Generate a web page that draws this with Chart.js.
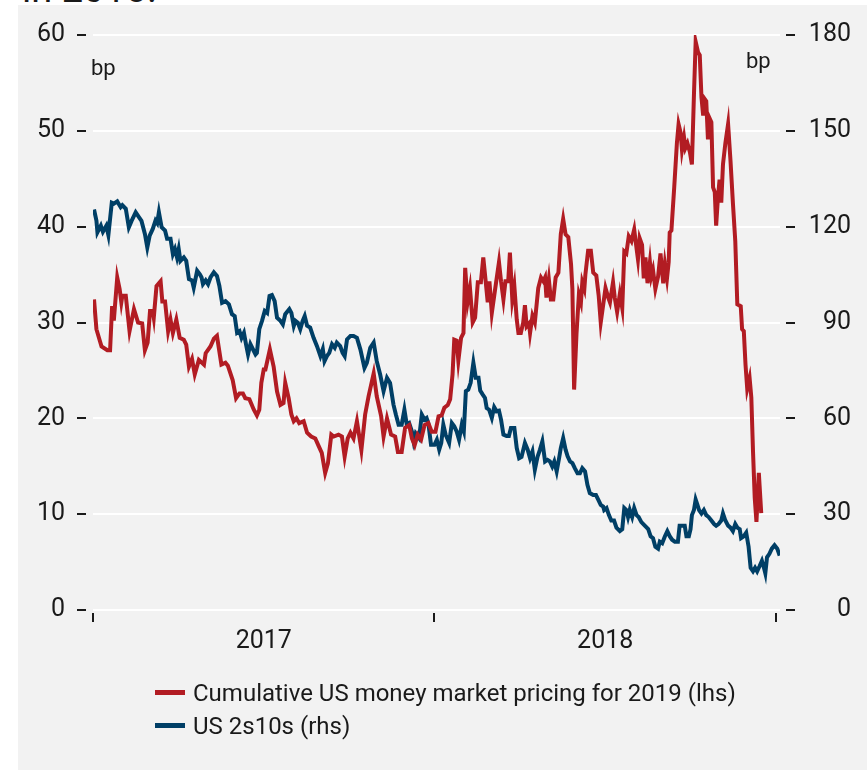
<!DOCTYPE html>
<html>
<head>
<meta charset="utf-8">
<script src="https://cdn.jsdelivr.net/npm/chart.js@4.4.1/dist/chart.umd.min.js"></script>
<style>
html,body{margin:0;padding:0;background:#fff;width:867px;height:770px;overflow:hidden;font-family:Roboto,sans-serif;color:#1a1a1a}
#head{position:absolute;left:22px;top:-30px;font-size:38px;line-height:38px;white-space:nowrap}
#panel{position:absolute;left:18px;top:5px;width:849px;height:765px;background:#f2f2f2}
#wrap{position:absolute;left:0;top:0;width:867px;height:770px}
#legend{position:absolute;left:155px;top:676px;font-size:24px}
.item{display:flex;align-items:center;height:33px}
.sw{width:30px;height:5px;margin-right:8px}
</style>
</head>
<body>
<div id="head">in 2018.</div>
<div id="panel"></div>
<div id="wrap"><canvas id="c" width="867" height="770"></canvas></div>
<div id="legend"></div>
<script>
// time axis in decimal years
const YEAR_MARKS = [2017, 2018, 2019];
const YEAR_LABELS = ['2017', '2018'];
const LHS_TICKS = [0, 10, 20, 30, 40, 50, 60];
const RHS_TICKS = [0, 30, 60, 90, 120, 150, 180];

// cumulative money market pricing for 2019, bp (lhs)
const mmT = [2017.003,2017.010,2017.025,2017.042,2017.050,2017.056,2017.061,2017.071,2017.078,2017.083,2017.086,2017.096,2017.107,2017.120,2017.132,2017.144,2017.152,2017.160,2017.167,2017.175,2017.178,2017.186,2017.198,2017.203,2017.211,2017.220,2017.227,2017.234,2017.244,2017.254,2017.266,2017.273,2017.281,2017.290,2017.298,2017.310,2017.325,2017.330,2017.344,2017.354,2017.363,2017.376,2017.388,2017.395,2017.409,2017.419,2017.429,2017.439,2017.446,2017.458,2017.471,2017.480,2017.487,2017.493,2017.500,2017.505,2017.518,2017.529,2017.539,2017.549,2017.558,2017.563,2017.573,2017.581,2017.588,2017.596,2017.604,2017.617,2017.627,2017.639,2017.651,2017.661,2017.670,2017.680,2017.688,2017.698,2017.705,2017.719,2017.729,2017.737,2017.746,2017.754,2017.763,2017.773,2017.786,2017.797,2017.807,2017.822,2017.831,2017.844,2017.851,2017.861,2017.873,2017.885,2017.893,2017.904,2017.914,2017.926,2017.934,2017.942,2017.951,2017.961,2017.971,2017.982,2017.992,2018.003,2018.012,2018.021,2018.029,2018.039,2018.046,2018.053,2018.058,2018.065,2018.070,2018.078,2018.085,2018.090,2018.097,2018.104,2018.112,2018.119,2018.127,2018.136,2018.143,2018.150,2018.156,2018.161,2018.168,2018.177,2018.189,2018.195,2018.202,2018.208,2018.216,2018.221,2018.228,2018.234,2018.241,2018.246,2018.253,2018.260,2018.265,2018.270,2018.277,2018.280,2018.287,2018.294,2018.304,2018.312,2018.319,2018.324,2018.328,2018.335,2018.341,2018.348,2018.355,2018.363,2018.370,2018.377,2018.384,2018.392,2018.400,2018.404,2018.409,2018.416,2018.423,2018.429,2018.433,2018.439,2018.442,2018.450,2018.458,2018.465,2018.474,2018.481,2018.487,2018.501,2018.509,2018.514,2018.523,2018.528,2018.535,2018.543,2018.550,2018.556,2018.562,2018.569,2018.577,2018.585,2018.592,2018.596,2018.601,2018.608,2018.613,2018.618,2018.624,2018.631,2018.635,2018.640,2018.647,2018.655,2018.662,2018.670,2018.675,2018.681,2018.686,2018.689,2018.694,2018.702,2018.710,2018.715,2018.721,2018.725,2018.731,2018.735,2018.741,2018.748,2018.754,2018.760,2018.765,2018.772,2018.777,2018.782,2018.787,2018.792,2018.796,2018.801,2018.806,2018.811,2018.816,2018.821,2018.825,2018.830,2018.835,2018.840,2018.845,2018.852,2018.860,2018.867,2018.874,2018.881,2018.887,2018.897,2018.901,2018.906,2018.911,2018.916,2018.923,2018.928,2018.933,2018.938,2018.943,2018.950,2018.957];
const mmV = [32.4,29.3,27.5,27.1,27.1,31.7,30.2,34.7,33.5,32.1,32.8,32.8,29.1,31.4,30.0,29.9,27.1,27.9,31.2,31.2,30.5,33.8,34.3,32.2,32.2,29.1,30.3,28.9,30.3,28.4,28.2,27.7,25.4,26.2,24.6,26.1,25.6,26.8,27.5,28.3,28.6,25.6,25.8,25.5,24.0,22.1,22.6,22.6,22.1,22.0,20.9,20.3,20.9,23.7,25.1,25.1,27.2,25.4,22.8,21.4,21.6,23.7,22.1,20.4,19.7,20.0,19.5,19.7,18.5,18.1,17.9,17.1,16.4,14.3,15.3,18.3,18.1,18.3,18.1,16.0,17.9,18.5,17.9,19.7,16.7,20.4,22.3,24.7,22.3,20.2,18.1,20.0,18.3,18.1,16.5,16.5,19.0,19.3,17.9,17.2,18.3,17.8,19.3,19.5,18.6,18.6,20.2,20.3,21.1,21.4,22.0,24.6,28.2,28.1,26.0,28.4,28.9,35.7,32.1,33.6,30.0,30.5,34.2,34.2,36.8,34.3,32.1,34.3,31.0,33.3,36.3,34.3,32.4,34.3,34.3,37.3,32.4,33.8,30.3,28.9,28.9,30.0,31.8,29.6,29.9,28.9,30.7,30.0,33.6,34.7,34.3,34.7,32.6,34.5,32.4,32.4,34.7,35.2,39.2,40.8,39.2,38.9,36.1,33.5,23.0,28.8,32.9,32.1,34.2,33.5,35.0,37.5,37.5,35.2,34.9,32.8,30.0,33.6,32.6,32.1,34.2,32.6,31.1,33.0,31.5,37.4,37.2,39.0,38.5,39.7,37.7,36.6,38.8,38.1,34.6,36.8,34.1,36.3,34.8,35.5,33.5,34.8,37.2,34.1,36.1,34.6,36.3,39.4,39.6,44.0,48.7,50.7,49.8,48.0,49.3,48.2,48.7,47.8,46.5,53.8,59.3,58.2,57.9,53.5,51.6,53.3,53.1,49.1,51.3,50.9,44.1,43.6,40.1,42.9,44.9,42.5,46.5,48.7,50.7,46.9,42.5,38.5,31.9,31.7,29.3,29.1,25.6,23.1,24.2,22.2,16.5,11.7,9.2,14.3,10.1];

// US 2s10s curve, bp (rhs)
const crvT = [2017.003,2017.010,2017.013,2017.023,2017.029,2017.039,2017.045,2017.055,2017.061,2017.071,2017.081,2017.086,2017.096,2017.105,2017.113,2017.125,2017.135,2017.142,2017.152,2017.159,2017.166,2017.175,2017.183,2017.188,2017.193,2017.201,2017.211,2017.217,2017.227,2017.234,2017.240,2017.246,2017.251,2017.256,2017.266,2017.273,2017.281,2017.290,2017.295,2017.305,2017.313,2017.318,2017.322,2017.330,2017.337,2017.344,2017.354,2017.363,2017.370,2017.378,2017.388,2017.398,2017.407,2017.415,2017.422,2017.429,2017.435,2017.442,2017.448,2017.454,2017.461,2017.468,2017.476,2017.480,2017.487,2017.495,2017.503,2017.510,2017.517,2017.524,2017.532,2017.539,2017.549,2017.556,2017.563,2017.575,2017.581,2017.588,2017.593,2017.600,2017.607,2017.614,2017.620,2017.627,2017.636,2017.646,2017.656,2017.666,2017.673,2017.678,2017.685,2017.692,2017.700,2017.708,2017.714,2017.724,2017.731,2017.737,2017.744,2017.754,2017.763,2017.773,2017.783,2017.795,2017.802,2017.812,2017.822,2017.831,2017.841,2017.851,2017.861,2017.870,2017.880,2017.887,2017.895,2017.904,2017.912,2017.919,2017.926,2017.934,2017.939,2017.945,2017.955,2017.963,2017.971,2017.977,2017.982,2017.990,2018.000,2018.007,2018.014,2018.020,2018.026,2018.033,2018.043,2018.051,2018.058,2018.065,2018.072,2018.080,2018.086,2018.092,2018.099,2018.106,2018.114,2018.121,2018.129,2018.134,2018.141,2018.148,2018.153,2018.160,2018.168,2018.175,2018.182,2018.189,2018.195,2018.202,2018.211,2018.218,2018.224,2018.234,2018.241,2018.248,2018.255,2018.265,2018.273,2018.280,2018.287,2018.294,2018.302,2018.309,2018.316,2018.324,2018.331,2018.338,2018.345,2018.351,2018.358,2018.365,2018.370,2018.377,2018.384,2018.390,2018.397,2018.404,2018.411,2018.419,2018.426,2018.433,2018.441,2018.448,2018.455,2018.465,2018.473,2018.480,2018.487,2018.494,2018.497,2018.504,2018.511,2018.518,2018.526,2018.533,2018.543,2018.550,2018.556,2018.562,2018.567,2018.572,2018.579,2018.585,2018.592,2018.598,2018.606,2018.616,2018.626,2018.633,2018.640,2018.647,2018.655,2018.660,2018.667,2018.675,2018.682,2018.689,2018.696,2018.704,2018.713,2018.718,2018.725,2018.733,2018.738,2018.745,2018.750,2018.754,2018.760,2018.765,2018.770,2018.775,2018.782,2018.789,2018.796,2018.803,2018.811,2018.819,2018.825,2018.832,2018.840,2018.845,2018.852,2018.860,2018.867,2018.874,2018.881,2018.887,2018.894,2018.898,2018.906,2018.913,2018.920,2018.926,2018.933,2018.939,2018.945,2018.952,2018.959,2018.965,2018.969,2018.974,2018.981,2018.988,2018.996,2019.004,2019.011];
const crvV = [125.4,121.9,118.2,120.3,118.4,120.3,117.4,127.5,127.2,127.9,126.1,126.7,125.6,119.8,121.8,124.5,122.9,121.8,117.7,113.5,117.2,119.3,121.9,121.1,124.5,119.8,118.8,116.2,116.2,111.4,113.0,110.4,113.0,109.3,110.4,109.3,103.6,103.2,100.9,106.2,105.1,104.1,102.0,103.2,102.0,104.1,105.7,104.6,101.5,96.2,96.7,95.7,92.6,92.0,86.8,87.3,85.2,86.8,83.2,80.0,83.2,81.7,80.0,80.5,87.9,90.5,93.6,93.0,98.3,98.6,96.7,91.5,90.5,89.4,92.6,94.2,93.0,88.9,90.5,89.9,87.9,90.5,92.0,89.0,88.4,85.2,82.6,79.5,81.7,77.9,79.5,80.5,83.2,82.1,83.7,82.6,80.5,79.5,84.7,85.8,85.8,85.2,81.6,75.8,77.4,82.1,83.7,77.9,73.7,68.5,72.7,71.1,64.3,61.2,58.0,58.0,62.7,58.0,58.5,55.9,52.8,55.3,53.8,61.2,59.6,60.1,58.5,51.7,51.7,53.3,50.2,52.3,58.0,54.8,52.3,58.5,57.5,55.9,53.3,58.0,56.0,68.5,69.0,71.1,77.4,72.7,72.7,68.7,67.5,66.4,63.2,62.7,60.1,63.5,62.2,62.4,59.6,54.9,54.5,54.5,57.0,57.0,50.7,47.5,47.9,52.3,50.2,47.5,49.6,43.9,48.0,50.2,52.8,46.5,47.0,46.5,44.9,46.5,43.4,47.5,50.7,53.8,50.2,48.1,46.5,46.0,44.4,42.8,42.8,44.4,43.4,39.2,36.6,36.0,36.0,34.5,32.9,32.4,31.3,31.9,29.7,28.0,28.0,25.8,24.7,25.3,31.9,31.3,29.1,31.3,29.1,31.9,29.7,29.1,27.5,26.4,25.3,23.1,22.5,19.8,19.2,21.4,20.9,23.1,24.7,23.1,22.0,21.4,21.4,26.4,26.4,26.4,23.1,23.1,25.3,29.7,31.3,34.6,33.0,31.3,30.2,31.3,29.7,29.1,28.0,26.9,26.4,26.9,28.0,30.2,28.0,26.4,25.8,24.7,26.9,25.8,25.3,22.5,23.1,24.2,19.8,13.2,12.1,13.2,12.1,13.7,15.4,13.2,11.5,16.5,17.6,19.2,20.3,19.2,17.0];

const RED = '#b21c23';
const BLUE = '#003f66';
const INK = '#1a1a1a';
const FONT = 'Roboto, sans-serif';

const pts = (t, v) => t.map((x, i) => ({x, y: v[i]}));

// dashes next to the value labels, year marks under the axis, and the "bp" units
const marks = {
  id: 'marks',
  afterDraw(chart){
    const {ctx, chartArea: a, scales} = chart;
    ctx.save();
    ctx.strokeStyle = INK; ctx.lineWidth = 2;
    ctx.beginPath();
    LHS_TICKS.forEach(v => { const y = Math.round(scales.yL.getPixelForValue(v)); ctx.moveTo(a.left - 16, y); ctx.lineTo(a.left - 7, y); });
    RHS_TICKS.forEach(v => { const y = Math.round(scales.yR.getPixelForValue(v)); ctx.moveTo(a.right + 6, y); ctx.lineTo(a.right + 15, y); });
    YEAR_MARKS.forEach(v => { const x = Math.round(scales.x.getPixelForValue(v)); ctx.moveTo(x, a.bottom + 3); ctx.lineTo(x, a.bottom + 12); });
    ctx.stroke();
    ctx.fillStyle = INK; ctx.font = '22px ' + FONT; ctx.textBaseline = 'alphabetic';
    ctx.fillText('bp', a.left - 2, a.top + 40);
    ctx.fillText('bp', a.right - 34, a.top + 33);
    ctx.restore();
  }
};

const tickFont = {family: FONT, size: 25};

const chart = new Chart(document.getElementById('c'), {
  type: 'line',
  data: {
    datasets: [
      {label: 'Cumulative US money market pricing for 2019 (lhs)', data: pts(mmT, mmV), yAxisID: 'yL',
       borderColor: RED, borderWidth: 4, pointRadius: 0, tension: 0},
      {label: 'US 2s10s (rhs)', data: pts(crvT, crvV), yAxisID: 'yR',
       borderColor: BLUE, borderWidth: 4, pointRadius: 0, tension: 0}
    ]
  },
  options: {
    responsive: false, animation: false,
    layout: {padding: {top: 35, bottom: 90, left: 0, right: 16}},
    plugins: {legend: {display: false}, tooltip: {enabled: false}},
    scales: {
      x: {
        type: 'linear', min: 2017, max: 2019.012,
        afterBuildTicks: s => { s.ticks = YEAR_LABELS.map(l => ({value: +l + 0.5})); },
        afterFit: s => { s.height = 70; },
        ticks: {callback: v => String(Math.floor(v)), color: INK, font: tickFont, padding: 9, autoSkip: false, maxRotation: 0},
        grid: {display: false}, border: {display: false}
      },
      yL: {
        position: 'left', min: 0, max: 60,
        afterBuildTicks: s => { s.ticks = LHS_TICKS.map(v => ({value: v})); },
        afterFit: s => { s.width = 93; },
        ticks: {color: INK, font: tickFont, padding: 0},
        grid: {color: '#ffffff', lineWidth: 2, tickLength: 28, tickColor: 'rgba(0,0,0,0)'}, border: {display: false}
      },
      yR: {
        position: 'right', min: 0, max: 180,
        afterBuildTicks: s => { s.ticks = RHS_TICKS.map(v => ({value: v})); },
        afterFit: s => { s.width = 71; },
        ticks: {color: INK, font: tickFont, padding: 0, crossAlign: 'far'},
        grid: {drawOnChartArea: false, tickLength: 27, tickColor: 'rgba(0,0,0,0)'}, border: {display: false}
      }
    }
  },
  plugins: [marks]
});

// legend, one entry per line
const lg = document.getElementById('legend');
chart.data.datasets.forEach(d => {
  const it = document.createElement('div'); it.className = 'item';
  it.innerHTML = `<span class="sw" style="background:${d.borderColor}"></span><span>${d.label}</span>`;
  lg.appendChild(it);
});
</script>
</body>
</html>
